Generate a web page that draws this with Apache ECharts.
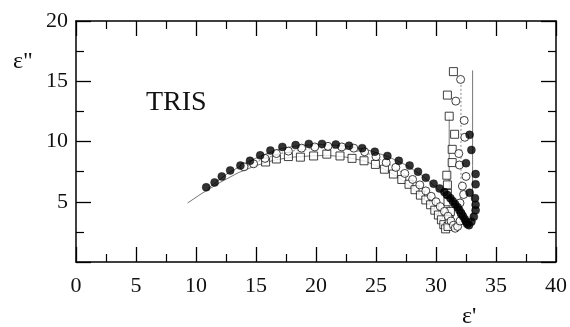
<!DOCTYPE html>
<html>
<head>
<meta charset="utf-8">
<script src="https://cdn.jsdelivr.net/npm/echarts@6/dist/echarts.min.js"></script>
<style>
html,body{margin:0;padding:0;background:#fff;}
#chart{width:570px;height:327px;}
</style>
</head>
<body>
<div id="chart"></div>
<script>
// ---- data (ε', ε'') ----
const xTicks = [0, 5, 10, 15, 20, 25, 30, 35, 40];
const yTicks = [5, 10, 15, 20];

const filledCircles = [
  [10.85,6.2],[11.55,6.6],[12.15,7.1],[12.85,7.6],[13.7,8.0],[14.5,8.4],[15.35,8.85],[16.2,9.25],
  [17.2,9.55],[18.3,9.7],[19.4,9.8],[20.5,9.8],[21.65,9.75],[22.75,9.65],[23.85,9.45],[24.9,9.15],
  [25.95,8.8],[26.9,8.4],[27.8,8.0],[28.5,7.5],[29.15,7.0],[29.8,6.5],[30.3,6.1],[30.7,5.8],
  [30.95,5.55],[31.2,5.3],[31.4,5.05],[31.6,4.8],[31.8,4.55],[31.95,4.3],[32.1,4.05],[32.25,3.8],
  [32.4,3.55],[32.5,3.35],[32.6,3.15],[32.75,3.05],[32.95,3.35],[33.15,3.75],[33.3,4.3],[33.3,4.75],
  [33.25,5.3],[32.8,5.75],[33.3,6.45],[33.3,7.3],[32.5,8.2],[32.95,9.3],[32.8,10.55]
];
const openCircles = [
  [14.0,7.9],[14.8,8.15],[15.75,8.6],[16.7,9.0],[17.7,9.2],[18.8,9.45],[19.9,9.55],[21.0,9.6],
  [22.15,9.55],[23.15,9.45],[24.05,9.15],[25.0,8.75],[25.85,8.25],[26.65,7.85],[27.4,7.35],
  [28.05,6.85],[28.65,6.4],[29.15,5.9],[29.6,5.45],[30.0,5.0],[30.35,4.6],[30.7,4.2],[31.0,3.8],
  [31.25,3.4],[31.45,3.05],[31.6,2.8],[31.8,2.95],[32.0,3.4],[32.1,4.0],[32.0,4.9],[32.3,5.6],
  [32.2,6.3],[32.5,7.1],[31.95,8.05],[31.9,9.0],[32.4,10.35],[32.35,11.75],[31.65,13.35],[32.05,15.15]
];
const openSquares = [
  [15.8,8.3],[16.7,8.55],[17.7,8.75],[18.7,8.7],[19.8,8.8],[20.9,8.95],[22.0,8.8],[23.0,8.6],
  [24.0,8.4],[24.95,8.1],[25.7,7.7],[26.45,7.3],[27.15,6.85],[27.75,6.45],[28.25,6.0],[28.7,5.55],
  [29.15,5.15],[29.55,4.75],[29.9,4.3],[30.2,3.9],[30.45,3.5],[30.65,3.1],[30.8,2.75],[31.0,2.95],
  [31.1,3.5],[31.2,4.2],[31.0,5.0],[30.95,5.7],[30.95,6.4],[30.9,7.2],[31.35,8.25],[31.35,9.35],
  [31.55,10.6],[31.1,12.1],[30.95,13.85],[31.45,15.8]
];
// fitted curves
const fitSquares = [
  [9.3,4.9],[10.5,5.7],[12,6.6],[13.5,7.4],[15,8.0],[16.5,8.45],[18,8.7],[19.5,8.8],[21,8.85],
  [22.5,8.7],[24,8.4],[25.5,7.8],[27,6.95],[28.5,5.75],[29.5,4.7],[30.3,3.6],[30.8,2.8],[31.0,2.7],
  [31.1,3.2],[31.1,5],[31.1,8],[31.1,12.1]
];
const fitCircles = [
  [14,7.8],[15.5,8.5],[17,9.0],[18.5,9.3],[20,9.45],[21.5,9.45],[23,9.3],[24.5,8.95],[26,8.2],
  [27.5,7.2],[28.8,6.15],[29.8,5.2],[30.6,4.2],[31.2,3.3],[31.6,2.8],[31.9,3.0],[32.05,3.6],
  [32.08,6],[32.08,10],[32.08,15.4]
];
const fitFilled = [
  [11,6.1],[12.5,7.25],[14,8.15],[15.5,8.85],[17,9.4],[18.5,9.65],[20,9.75],[21.5,9.7],[23,9.55],
  [24.5,9.25],[26,8.75],[27.5,8.05],[28.8,7.2],[30,6.2],[31,5.2],[31.8,4.3],[32.4,3.5],[32.75,3.0],
  [32.95,3.3],[33.05,4.5],[33.05,8],[33.05,15.9]
];

const serif = '"Liberation Serif","Times New Roman",serif';
const chart = echarts.init(document.getElementById('chart'));

function xAxisDef(pos, showLabel) {
  return {
    type: 'value', position: pos, min: 0, max: 40, interval: 5,
    axisLine: {show: true, onZero: false, lineStyle: {color: '#000', width: 1.5}},
    axisTick: {show: true, inside: true, length: 15, lineStyle: {color: '#000', width: 1.3}},
    minorTick: {show: true, splitNumber: 2, length: 8, lineStyle: {color: '#000', width: 1.2}},
    splitLine: {show: false},
    axisLabel: {show: showLabel, margin: 13, color: '#111', fontFamily: serif, fontSize: 22,
      formatter: v => xTicks.includes(v) ? String(v) : ''}
  };
}
function yAxisDef(pos, showLabel) {
  return {
    type: 'value', position: pos, min: 0, max: 20, interval: 5,
    axisLine: {show: true, onZero: false, lineStyle: {color: '#000', width: 1.5}},
    axisTick: {show: true, inside: true, length: 15, lineStyle: {color: '#000', width: 1.3}},
    minorTick: {show: true, splitNumber: 2, length: 8, lineStyle: {color: '#000', width: 1.2}},
    splitLine: {show: false},
    axisLabel: {show: showLabel, margin: 8, color: '#111', fontFamily: serif, fontSize: 22,
      formatter: v => yTicks.includes(v) ? String(v) : ''}
  };
}

const option = {
  animation: false,
  backgroundColor: '#fff',
  grid: {left: 76, top: 21, right: 13, bottom: 65},
  xAxis: [xAxisDef('bottom', true), xAxisDef('top', false)],
  yAxis: [yAxisDef('left', true), yAxisDef('right', false)],
  graphic: [
    {type: 'text', left: 13, top: 50, style: {text: 'ε"', font: '24px ' + serif, fill: '#111'}},
    {type: 'text', left: 462, top: 305, style: {text: "ε'", font: '24px ' + serif, fill: '#111'}},
    {type: 'text', left: 146, top: 89, style: {text: 'TRIS', font: '28px ' + serif, fill: '#111'}}
  ],
  series: [
    {type: 'line', data: fitSquares, symbol: 'none', lineStyle: {color: '#777', width: 1}, z: 1},
    {type: 'line', data: fitCircles, symbol: 'none', lineStyle: {color: '#888', width: 1, type: [2, 2]}, z: 1},
    {type: 'line', data: fitFilled, symbol: 'none', lineStyle: {color: '#777', width: 1}, z: 1},
    {type: 'scatter', data: openSquares, symbol: 'rect', symbolSize: 8,
      itemStyle: {color: '#fff', borderColor: '#111', borderWidth: 1}, z: 3},
    {type: 'scatter', data: openCircles, symbol: 'circle', symbolSize: 8,
      itemStyle: {color: '#fff', borderColor: '#111', borderWidth: 1}, z: 4},
    {type: 'scatter', data: filledCircles, symbol: 'circle', symbolSize: 8,
      itemStyle: {color: '#000', borderColor: '#000', borderWidth: 0.5}, z: 5}
  ]
};
chart.setOption(option);
</script>
</body>
</html>
